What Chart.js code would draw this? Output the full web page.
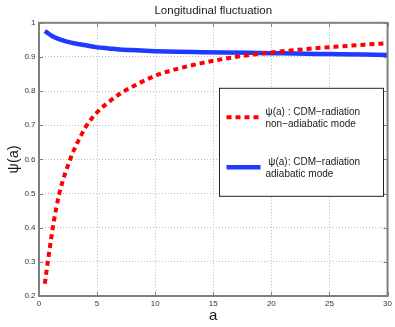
<!DOCTYPE html>
<html>
<head>
<meta charset="utf-8">
<script src="https://cdn.jsdelivr.net/npm/chart.js@4"></script>
<style>
  html, body { margin: 0; padding: 0; background: #fff; }
  #wrap { width: 395px; height: 327px; }
</style>
</head>
<body>
<div id="wrap"><canvas id="psiChart" width="395" height="327"></canvas></div>
<script>
// ---- values ----
const aValues = [0.5, 0.75, 1, 1.25, 1.5, 1.75, 2, 2.5, 3, 3.5, 4, 5, 6, 7, 8, 10, 12, 14, 16, 18, 20, 22, 24, 26, 28, 30];
const psiNonAdiabatic = [0.236, 0.298, 0.358, 0.414, 0.46, 0.50, 0.532, 0.583, 0.627, 0.662, 0.694, 0.738, 0.768, 0.793, 0.812,
    0.845, 0.866, 0.882, 0.895, 0.905, 0.913, 0.92, 0.926, 0.931, 0.936, 0.94];
const psiAdiabatic = [0.976, 0.970, 0.964, 0.959, 0.955, 0.952, 0.949, 0.944, 0.940, 0.937, 0.934, 0.928, 0.925, 0.922, 0.920,
    0.917, 0.915, 0.914, 0.913, 0.912, 0.911, 0.910, 0.909, 0.908, 0.907, 0.906];
const xTicks = [0, 5, 10, 15, 20, 25, 30];
const yTicks = [0.2, 0.3, 0.4, 0.5, 0.6, 0.7, 0.8, 0.9, 1];
const labelNonAdiabatic = ['ψ(a) : CDM−radiation', 'non−adiabatic mode'];
const labelAdiabatic = [' ψ(a): CDM−radiation', 'adiabatic mode'];

const FONT = "'Liberation Sans', Arial, sans-serif";
const AXIS_GRAY = '#7f7f7f';

// ------------------ box, inner ticks, legend ------------------
const frameAndLegend = {
    id: 'frameAndLegend',
    afterDatasetsDraw(chart) {
        const { ctx, chartArea: ca, scales: { x, y } } = chart;
        ctx.save();

        // MATLAB style ticks pointing inwards on all four sides
        ctx.strokeStyle = AXIS_GRAY;
        ctx.lineWidth = 1;
        ctx.beginPath();
        xTicks.forEach(v => {
            const px = Math.round(x.getPixelForValue(v)) + 0.5;
            ctx.moveTo(px, ca.bottom); ctx.lineTo(px, ca.bottom - 4);
            ctx.moveTo(px, ca.top); ctx.lineTo(px, ca.top + 4);
        });
        yTicks.forEach(v => {
            const py = Math.round(y.getPixelForValue(v)) + 0.5;
            ctx.moveTo(ca.left, py); ctx.lineTo(ca.left + 4, py);
            ctx.moveTo(ca.right, py); ctx.lineTo(ca.right - 4, py);
        });
        ctx.stroke();

        ctx.lineWidth = 2;
        ctx.strokeRect(ca.left, ca.top, ca.right - ca.left, ca.bottom - ca.top);

        // legend
        const bx = ca.left + 180.5, by = ca.top + 65.5, bw = 164, bh = 108;
        ctx.fillStyle = '#fff';
        ctx.fillRect(bx, by, bw, bh);
        ctx.strokeStyle = '#222';
        ctx.lineWidth = 1;
        ctx.strokeRect(bx, by, bw, bh);

        const rows = [29, 79];
        chart.data.datasets.forEach((ds, i) => {
            const cy = by + rows[i];
            ctx.save();
            ctx.strokeStyle = ds.borderColor;
            ctx.lineWidth = ds.borderWidth;
            ctx.setLineDash(ds.borderDash || []);
            ctx.beginPath();
            ctx.moveTo(bx + 7, cy);
            ctx.lineTo(bx + 41, cy);
            ctx.stroke();
            ctx.restore();

            ctx.fillStyle = '#1a1a1a';
            ctx.font = '10px ' + FONT;
            ctx.textAlign = 'left';
            ctx.textBaseline = 'middle';
            ds.label.forEach((line, k) => {
                ctx.fillText(line, bx + 46, cy - 5.5 + k * 12);
            });
        });
        ctx.restore();
    }
};

const ctx = document.getElementById('psiChart').getContext('2d');
new Chart(ctx, {
    type: 'line',
    data: {
        datasets: [{
            label: labelNonAdiabatic,
            data: aValues.map((a, i) => ({ x: a, y: psiNonAdiabatic[i] })),
            borderColor: '#ff0000',
            borderWidth: 4,
            borderDash: [5, 4],
            pointRadius: 0,
            cubicInterpolationMode: 'monotone',
            fill: false
        }, {
            label: labelAdiabatic,
            data: aValues.map((a, i) => ({ x: a, y: psiAdiabatic[i] })),
            borderColor: '#1f3bff',
            borderWidth: 4.5,
            pointRadius: 0,
            cubicInterpolationMode: 'monotone',
            fill: false
        }]
    },
    options: {
        responsive: false,
        animation: false,
        layout: { padding: { left: 0, right: 7, top: 0, bottom: 0 } },
        plugins: {
            legend: { display: false },
            tooltip: { enabled: false },
            title: {
                display: true,
                text: 'Longitudinal fluctuation',
                fullSize: false,
                color: '#1a1a1a',
                font: { family: FONT, size: 11.5, weight: 'normal' },
                padding: { top: 4, bottom: 5 }
            }
        },
        scales: {
            x: {
                type: 'linear',
                min: 0,
                max: 30,
                afterBuildTicks: s => { s.ticks = xTicks.map(v => ({ value: v })); },
                afterFit: s => { s.height = 31; },
                ticks: {
                    color: '#333',
                    font: { family: FONT, size: 8 },
                    padding: 3,
                    maxRotation: 0,
                    callback: v => String(v)
                },
                grid: { color: '#bdbdbd', lineWidth: 1, drawTicks: false },
                border: { display: false, dash: [1, 2] },
                title: {
                    display: true,
                    text: 'a',
                    color: '#1a1a1a',
                    font: { family: FONT, size: 15 },
                    padding: { top: 0, bottom: 2 }
                }
            },
            y: {
                min: 0.2,
                max: 1,
                afterBuildTicks: s => { s.ticks = yTicks.map(v => ({ value: v })); },
                afterFit: s => { s.width = 39; },
                ticks: {
                    color: '#333',
                    font: { family: FONT, size: 8 },
                    padding: 3.5,
                    callback: v => String(v)
                },
                grid: { color: '#bdbdbd', lineWidth: 1, drawTicks: false },
                border: { display: false, dash: [1, 2] },
                title: {
                    display: true,
                    text: 'ψ(a)',
                    color: '#1a1a1a',
                    font: { family: FONT, size: 14.5 },
                    padding: { top: 5, bottom: 0 }
                }
            }
        }
    },
    plugins: [frameAndLegend]
});
</script>
</body>
</html>
